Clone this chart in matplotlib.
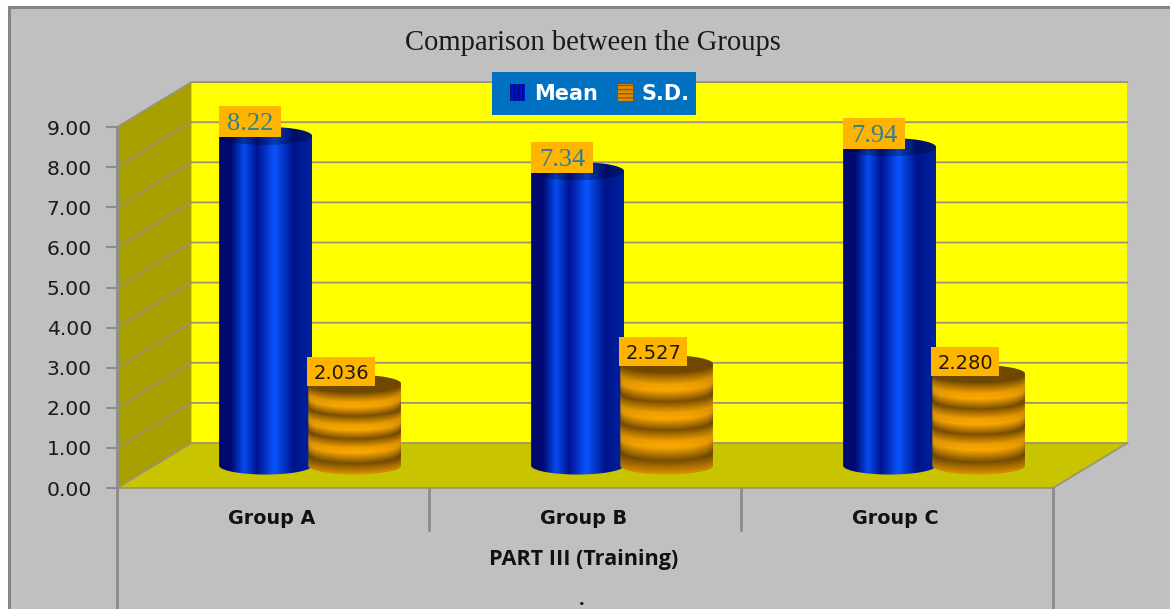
import numpy as np
import matplotlib
matplotlib.use("Agg")
import matplotlib.pyplot as plt
from matplotlib.patches import Patch, PathPatch, Polygon, Rectangle
from matplotlib.path import Path

groups = ["Group A", "Group B", "Group C"]
mean_values = [8.22, 7.34, 7.94]
sd_values = [2.036, 2.527, 2.280]
y_ticks = [0, 1, 2, 3, 4, 5, 6, 7, 8, 9]

title = "Comparison between the Groups"
part_label = "PART III (Training)"

# floor depth of the 3d box, in axis units
DEPTH_X = 0.2385
DEPTH_Y = 1.122
BAR_W = 0.298
BAR_OFFSET = 0.143
CAP_H = 0.225

GRID = "#9c9474"
FRAME = "#8c8c8c"

BLUE_POS = [0.0, 0.13, 0.27, 0.41, 0.60, 0.80, 1.0]
BLUE_COL = [(0, 10, 110), (0, 10, 115), (5, 75, 240), (0, 20, 145), (10, 85, 255), (0, 20, 140), (0, 35, 160)]
ORANGE_POS = [0.0, 0.11, 0.17, 0.28, 0.39, 0.45, 0.56, 0.67, 0.73, 0.86, 1.0]
ORANGE_COL = [(125, 80, 0), (240, 160, 0), (250, 168, 0), (125, 80, 0), (240, 160, 0), (250, 168, 0), (125, 80, 0),
              (240, 160, 0), (250, 168, 0), (120, 78, 0), (230, 150, 0)]


def stops(t, pos, cols):
    cols = np.array(cols) / 255.0
    return np.dstack([np.interp(t, pos, cols[:, i]) for i in range(3)])


def ellipse_xy(cx, hw, cy, hh, a0, a1, n=60):
    a = np.linspace(a0, a1, n)
    return cx + hw * np.cos(a), cy + hh * np.sin(a)


def fill_clipped(ax, img, extent, xs, ys, zorder):
    clip = PathPatch(Path(np.column_stack([xs, ys])), transform=ax.transData, fc="none", ec="none")
    ax.add_patch(clip)
    im = ax.imshow(img, extent=extent, origin="lower", aspect="auto", zorder=zorder, interpolation="bilinear")
    im.set_clip_path(clip)


def draw_cylinder(ax, cx, value, base, kind, zorder):
    hw = BAR_W / 2
    top = base + value
    x = np.linspace(-1, 1, 160)
    y = np.linspace(base - CAP_H, top + CAP_H, 400)
    X, Y = np.meshgrid(x, y)
    bulge = CAP_H * np.sqrt(1 - X ** 2)
    extent = [cx - hw, cx + hw, y[0], y[-1]]

    if kind == "mean":
        body = stops((X + 1) / 2, BLUE_POS, BLUE_COL)
        cap = body * 0.72
    else:
        frac = np.clip((top - (Y + bulge)) / value, 0, 1)
        shade = (0.85 + 0.15 * np.sqrt(1 - X ** 2))[..., None]
        body = stops(frac, ORANGE_POS, ORANGE_COL) * shade
        cap = np.ones_like(body) * np.array([112, 72, 0]) / 255.0

    # side wall: top edge straight across, bottom edge follows the front of the base
    bx, by = ellipse_xy(cx, hw, base, CAP_H, np.pi, 2 * np.pi)
    xs = np.r_[bx, cx + hw, cx - hw]
    ys = np.r_[by, top, top]
    fill_clipped(ax, body, extent, xs, ys, zorder)

    tx, ty = ellipse_xy(cx, hw, top, CAP_H, 0, 2 * np.pi, 120)
    fill_clipped(ax, cap, extent, tx, ty, zorder + 0.1)


def value_box(ax, left, center_y, width, height, text, **kw):
    ax.add_patch(Rectangle((left, center_y - height / 2), width, height, fc="#ffb400", ec="none", zorder=8))
    ax.text(left + width / 2, center_y, text, ha="center", va="center_baseline", zorder=9, **kw)


fig = plt.figure(figsize=(11.7, 6.09), dpi=100, facecolor="white")
fig.add_artist(Rectangle((9 / 1170, -0.05), 1.1, 1.05 - 7 / 609, transform=fig.transFigure, fc="#c0c0c0",
                         ec="#858585", lw=2.2, zorder=-1))

ax = fig.add_axes([0, 0, 1, 1])
ax.patch.set_visible(False)
ax.axis("off")
n = len(groups)

# back wall, left wall and floor
ax.add_patch(Rectangle((DEPTH_X, DEPTH_Y), n, y_ticks[-1], fc="#ffff00", ec="none", zorder=1))
ax.add_patch(Polygon([(0, 0), (DEPTH_X, DEPTH_Y), (DEPTH_X, DEPTH_Y + 9), (0, 9)], fc="#a8a000", ec="none", zorder=1))
ax.add_patch(Polygon([(0, 0), (n, 0), (n + DEPTH_X, DEPTH_Y), (DEPTH_X, DEPTH_Y)], fc="#c8c400", ec="none", zorder=1))

for v in y_ticks:
    ax.plot([0, DEPTH_X, n + DEPTH_X], [v, v + DEPTH_Y, v + DEPTH_Y], color=GRID, lw=1.3, zorder=2,
            solid_joinstyle="miter")
    ax.plot([-0.032, 0], [v, v], color=FRAME, lw=1.5, zorder=2)
    ax.text(-0.08, v, f"{v:.2f}", ha="right", va="center_baseline", fontsize=14.6, color="#1a1a1a",
            family="DejaVu Sans", zorder=3)

ax.plot([0, n, n + DEPTH_X], [0, 0, DEPTH_Y], color=GRID, lw=1.3, zorder=2)

# category table under the floor
ax.plot([0, 0], [9, -3.1], color=FRAME, lw=2, zorder=3)
ax.plot([n, n], [0, -3.1], color=FRAME, lw=2, zorder=3)
for i in range(1, n):
    ax.plot([i, i], [0, -1.05], color=FRAME, lw=2, zorder=3)

for i, name in enumerate(groups):
    ax.text(i + 0.495, -0.7, name, ha="center", va="center_baseline", fontsize=13.8, fontweight="bold",
            color="#111111", family="DejaVu Sans")

    base = DEPTH_Y / 2
    cx_mean = i + 0.5 + DEPTH_X / 2 - BAR_OFFSET
    cx_sd = i + 0.5 + DEPTH_X / 2 + BAR_OFFSET
    draw_cylinder(ax, cx_mean, mean_values[i], base, "mean", 4)
    draw_cylinder(ax, cx_sd, sd_values[i], base, "sd", 5)

    value_box(ax, cx_mean - BAR_W / 2, base + mean_values[i] + 0.35, 0.199, 0.77, f"{mean_values[i]:.2f}",
              fontsize=19, family="Liberation Serif", color="#2e7f9a")
    value_box(ax, cx_sd - BAR_W / 2 - 0.004, base + sd_values[i] + 0.31, 0.218, 0.72, f"{sd_values[i]:.3f}",
              fontsize=14, family="DejaVu Sans", color="#1a1a00")

ax.text(1.494, -1.72, part_label, ha="center", va="center_baseline", fontsize=15.6, fontweight="bold",
        family="Open Sans", color="#111111")
ax.text(1.49, -2.72, ".", ha="center", va="center_baseline", fontsize=14, fontweight="bold", family="Open Sans",
        color="#111111")
ax.text(1.525, 11.17, title, ha="center", va="center_baseline", fontsize=20.6, family="Liberation Serif",
        color="#1a1a1a")

# legend band sits on a wider plate than its entries
ax.add_patch(Rectangle(((492 - 117) / 312, (488 - 115) / 40.1), 204 / 312, 43 / 40.1, fc="#0070c0", ec="none",
                       zorder=9))
handles = [Patch(facecolor="#0010c8", edgecolor="#000a80", hatch="||||", lw=0, label="Mean"),
           Patch(facecolor="#e08a00", edgecolor="#9a5c00", hatch="----", lw=0, label="S.D.")]
leg = ax.legend(handles=handles, ncol=2, loc="center", bbox_to_anchor=(600 / 1170, 1 - 93.5 / 609),
                bbox_transform=fig.transFigure, frameon=False, labelcolor="white",
                prop={"family": "DejaVu Sans", "weight": "bold", "size": 15}, handlelength=0.72,
                handleheight=0.85, handletextpad=0.4, columnspacing=1.0, borderpad=0, borderaxespad=0)
leg.set_zorder(10)

ax.set_xlim(-117 / 312, (1170 - 117) / 312)
ax.set_ylim(-121 / 40.1, 488 / 40.1)

fig.savefig("out.png", dpi=100, facecolor=fig.get_facecolor())
